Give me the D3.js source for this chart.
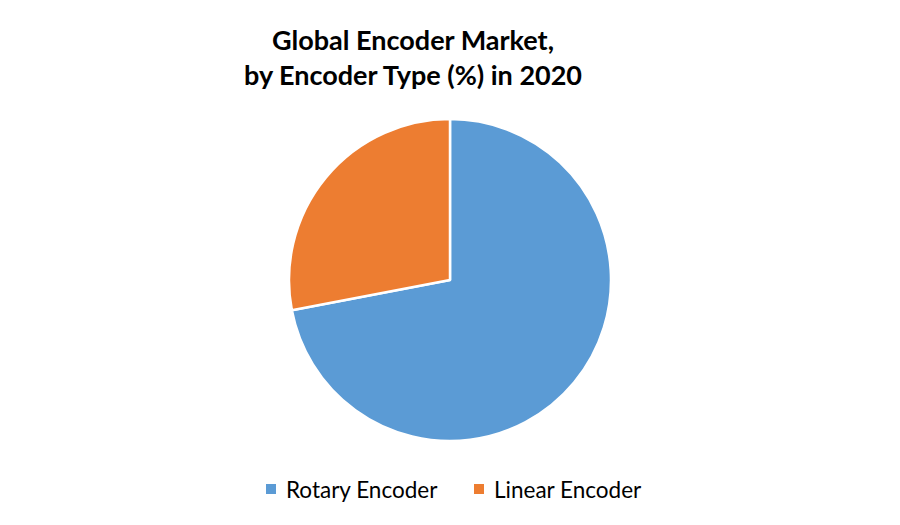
<!DOCTYPE html>
<html>
<head>
<meta charset="utf-8">
<script src="https://cdn.jsdelivr.net/npm/d3@7"></script>
<style>
  body { margin: 0; background: #fff; }
  svg { display: block; }
</style>
</head>
<body>
<div id="chart"></div>
<script>
// Encoder type share, 2020
const categories = ["Rotary Encoder", "Linear Encoder"];
const shares = [72, 28];
const colors = ["#5b9bd5", "#ed7d31"];
const titleLines = ["Global Encoder Market,", "by Encoder Type (%) in 2020"];

const width = 900, height = 525;
const font = "Lato, 'Open Sans', sans-serif";

const svg = d3.select("#chart")
  .append("svg")
  .attr("width", width)
  .attr("height", height);

// Title
svg.append("text")
  .attr("x", 413)
  .attr("y", 50)
  .attr("text-anchor", "middle")
  .style("font-family", font)
  .style("font-weight", "bold")
  .style("font-size", "27px")
  .style("fill", "#000")
  .selectAll("tspan")
  .data(titleLines)
  .join("tspan")
  .attr("x", 413)
  .attr("dy", (d, i) => i === 0 ? 0 : 35)
  .text(d => d);

// Pie
const data = categories.map((c, i) => ({ name: c, value: shares[i], color: colors[i] }));
const pie = d3.pie().value(d => d.value).sort(null);
const arc = d3.arc().innerRadius(0).outerRadius(161);

const g = svg.append("g")
  .attr("transform", "translate(450,280)");

g.selectAll("path")
  .data(pie(data))
  .join("path")
  .attr("d", arc)
  .attr("fill", d => d.data.color)
  .attr("stroke", "#fff")
  .attr("stroke-width", 2.5)
  .attr("stroke-linejoin", "round");

// Legend
const legendX = [266, 474];
const legend = svg.append("g");
const items = legend.selectAll("g")
  .data(data)
  .join("g")
  .attr("transform", (d, i) => `translate(${legendX[i]},484)`);

items.append("rect")
  .attr("width", 10)
  .attr("height", 10)
  .attr("fill", d => d.color);

items.append("text")
  .attr("x", 20)
  .attr("y", 14)
  .style("font-family", font)
  .style("font-size", "22.5px")
  .style("fill", "#000")
  .text(d => d.name);
</script>
</body>
</html>
